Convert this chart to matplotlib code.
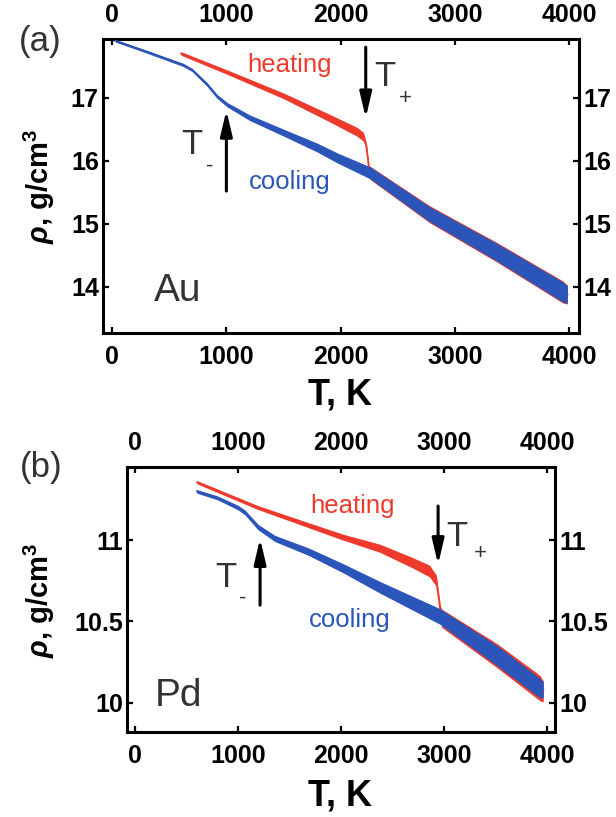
import matplotlib
matplotlib.use("Agg")
import matplotlib.pyplot as plt
import numpy as np

plt.rcParams['font.family'] = ['Liberation Sans', 'DejaVu Sans']
plt.rcParams['mathtext.fontset'] = 'custom'
plt.rcParams['mathtext.rm'] = 'Liberation Sans:bold'
plt.rcParams['mathtext.it'] = 'Liberation Sans:italic:bold'
plt.rcParams['mathtext.bf'] = 'Liberation Sans:bold'

# ---------------- data ----------------
# Au
au_cool_T = [30, 300, 621, 700, 831, 919, 1006, 1207, 1496, 1794, 1977, 2257, 2782, 3368, 3946, 3985]
au_cool_rho = [17.90, 17.73, 17.52, 17.44, 17.21, 17.02, 16.89, 16.68, 16.45, 16.21, 16.04, 15.81, 15.15, 14.55, 13.92, 13.88]
au_cool_spread = [0.02, 0.022, 0.025, 0.025, 0.03, 0.032, 0.035, 0.045, 0.055, 0.07, 0.08, 0.095, 0.12, 0.14, 0.16, 0.14]

au_heat_T = [604, 1000, 1500, 1900, 2143, 2200, 2225, 2240, 2250, 2257, 2782, 3368, 3946, 3985]
au_heat_rho = [17.70, 17.41, 17.03, 16.68, 16.46, 16.38, 16.24, 16.02, 15.84, 15.81, 15.15, 14.55, 13.92, 13.88]
au_heat_spread = [0.028, 0.035, 0.045, 0.06, 0.07, 0.07, 0.05, 0.03, 0.05, 0.105, 0.135, 0.155, 0.175, 0.15]

# Pd
pd_cool_T = [600, 800, 1000, 1067, 1194, 1358, 1680, 2010, 2376, 2960, 3511, 3928, 3960]
pd_cool_rho = [11.30, 11.26, 11.20, 11.17, 11.08, 11.01, 10.93, 10.83, 10.71, 10.53, 10.29, 10.09, 10.08]
pd_cool_spread = [0.011, 0.012, 0.014, 0.015, 0.017, 0.019, 0.023, 0.028, 0.036, 0.048, 0.062, 0.06, 0.05]

pd_heat_T = [602, 1194, 2010, 2376, 2696, 2857, 2923, 2945, 2960, 2975, 3511, 3928, 3960]
pd_heat_rho = [11.356, 11.20, 11.02, 10.95, 10.86, 10.81, 10.75, 10.65, 10.58, 10.52, 10.29, 10.09, 10.07]
pd_heat_spread = [0.01, 0.012, 0.018, 0.025, 0.032, 0.036, 0.035, 0.025, 0.02, 0.056, 0.074, 0.078, 0.065]

x_ticks = [0, 1000, 2000, 3000, 4000]
au_y_ticks = [14, 15, 16, 17]
pd_y_ticks = [10, 10.5, 11]
pd_y_ticklabels = ['10', '10.5', '11']

RED = '#ee3a2c'
BLUE = '#2b55b8'
TXT = '#333333'

fig = plt.figure(figsize=(6.16, 8.17), dpi=100)
W, H = 616.0, 817.0

def box(l, t, r, b):
    return [l / W, 1 - b / H, (r - l) / W, (b - t) / H]

ax1 = fig.add_axes(box(103, 39, 579, 333))
ax2 = fig.add_axes(box(127, 467, 555, 732))

def band(ax, T, rho, sp, color, z):
    T = np.asarray(T, float); rho = np.asarray(rho, float); sp = np.asarray(sp, float)
    ax.fill_between(T, rho - sp, rho + sp, color=color, lw=0, zorder=z)
    ax.plot(T, rho, color=color, lw=1.3, zorder=z)

def style(ax, yticks, yticklabels=None):
    for s in ax.spines.values():
        s.set_linewidth(2.2)
    ax.set_xticks(x_ticks)
    ax.set_yticks(yticks)
    if yticklabels is not None:
        ax.set_yticklabels(yticklabels)
    ax.tick_params(axis='both', which='major', direction='in', length=4, width=1.6,
                   top=True, right=True, labeltop=True, labelright=True,
                   labelsize=18)
    ax.tick_params(axis='x', pad=8.5)
    ax.tick_params(axis='y', pad=3)
    for t in ax.xaxis.get_major_ticks():
        t.label1.set_fontweight('bold'); t.label2.set_fontweight('bold')
    for t in ax.yaxis.get_major_ticks():
        t.label1.set_fontweight('bold'); t.label2.set_fontweight('bold')

def arrow(ax, x, y0, y1):
    ax.annotate('', xy=(x, y1), xytext=(x, y0),
                arrowprops=dict(arrowstyle='-|>,head_length=0.85,head_width=0.2',
                                lw=2.2, color='k', mutation_scale=18, shrinkA=0, shrinkB=0),
                zorder=5)

# ---------- panel (a) Au ----------
band(ax1, au_heat_T, au_heat_rho, au_heat_spread, RED, 2)
band(ax1, au_cool_T, au_cool_rho, au_cool_spread, BLUE, 3)
ax1.set_xlim(-80, 4087)
ax1.set_ylim(13.27, 17.93)
style(ax1, au_y_ticks)
ax1.text(1557, 17.52, 'heating', color=RED, fontsize=18.5, ha='center', va='center')
ax1.text(1557, 15.67, 'cooling', color=BLUE, fontsize=18.5, ha='center', va='center')
ax1.text(577, 13.94, 'Au', color=TXT, fontsize=28, ha='center', va='center')
arrow(ax1, 2220, 17.80, 16.68)
ax1.text(2388, 17.33, 'T', color=TXT, fontsize=25, ha='center', va='center')
ax1.text(2563, 16.98, '+', color=TXT, fontsize=16, ha='center', va='center')
arrow(ax1, 1000, 15.52, 16.80)
ax1.text(700, 16.25, 'T', color=TXT, fontsize=25, ha='center', va='center')
ax1.text(857, 15.91, '-', color=TXT, fontsize=16, ha='center', va='center')

# ---------- panel (b) Pd ----------
band(ax2, pd_heat_T, pd_heat_rho, pd_heat_spread, RED, 2)
band(ax2, pd_cool_T, pd_cool_rho, pd_cool_spread, BLUE, 3)
ax2.set_xlim(-78, 4074)
ax2.set_ylim(9.82, 11.45)
style(ax2, pd_y_ticks, pd_y_ticklabels)
ax2.text(2105, 11.21, 'heating', color=RED, fontsize=18.5, ha='center', va='center')
ax2.text(2085, 10.51, 'cooling', color=BLUE, fontsize=18.5, ha='center', va='center')
ax2.text(417, 10.04, 'Pd', color=TXT, fontsize=28, ha='center', va='center')
arrow(ax2, 2940, 11.21, 10.85)
ax2.text(3123, 11.02, 'T', color=TXT, fontsize=25, ha='center', va='center')
ax2.text(3346, 10.92, '+', color=TXT, fontsize=16, ha='center', va='center')
arrow(ax2, 1213, 10.60, 11.01)
ax2.text(883, 10.77, 'T', color=TXT, fontsize=25, ha='center', va='center')
ax2.text(1047, 10.64, '-', color=TXT, fontsize=16, ha='center', va='center')

# labels
ylab = r'$\mathit{\rho}$, g/cm$^{\mathbf{3}}$'
fig.text(39 / W, 1 - 186 / H, ylab, rotation=90, ha='center', va='center',
         fontsize=21, fontweight='bold')
fig.text(39 / W, 1 - 600 / H, ylab, rotation=90, ha='center', va='center',
         fontsize=21, fontweight='bold')
fig.text(340 / W, 1 - 395 / H, 'T, K', ha='center', va='center', fontsize=26, fontweight='bold')
fig.text(340 / W, 1 - 796 / H, 'T, K', ha='center', va='center', fontsize=26, fontweight='bold')
fig.text(40 / W, 1 - 42 / H, '(a)', ha='center', va='center', fontsize=25, color=TXT)
fig.text(41 / W, 1 - 467 / H, '(b)', ha='center', va='center', fontsize=25, color=TXT)

fig.savefig('out.png', dpi=100)
